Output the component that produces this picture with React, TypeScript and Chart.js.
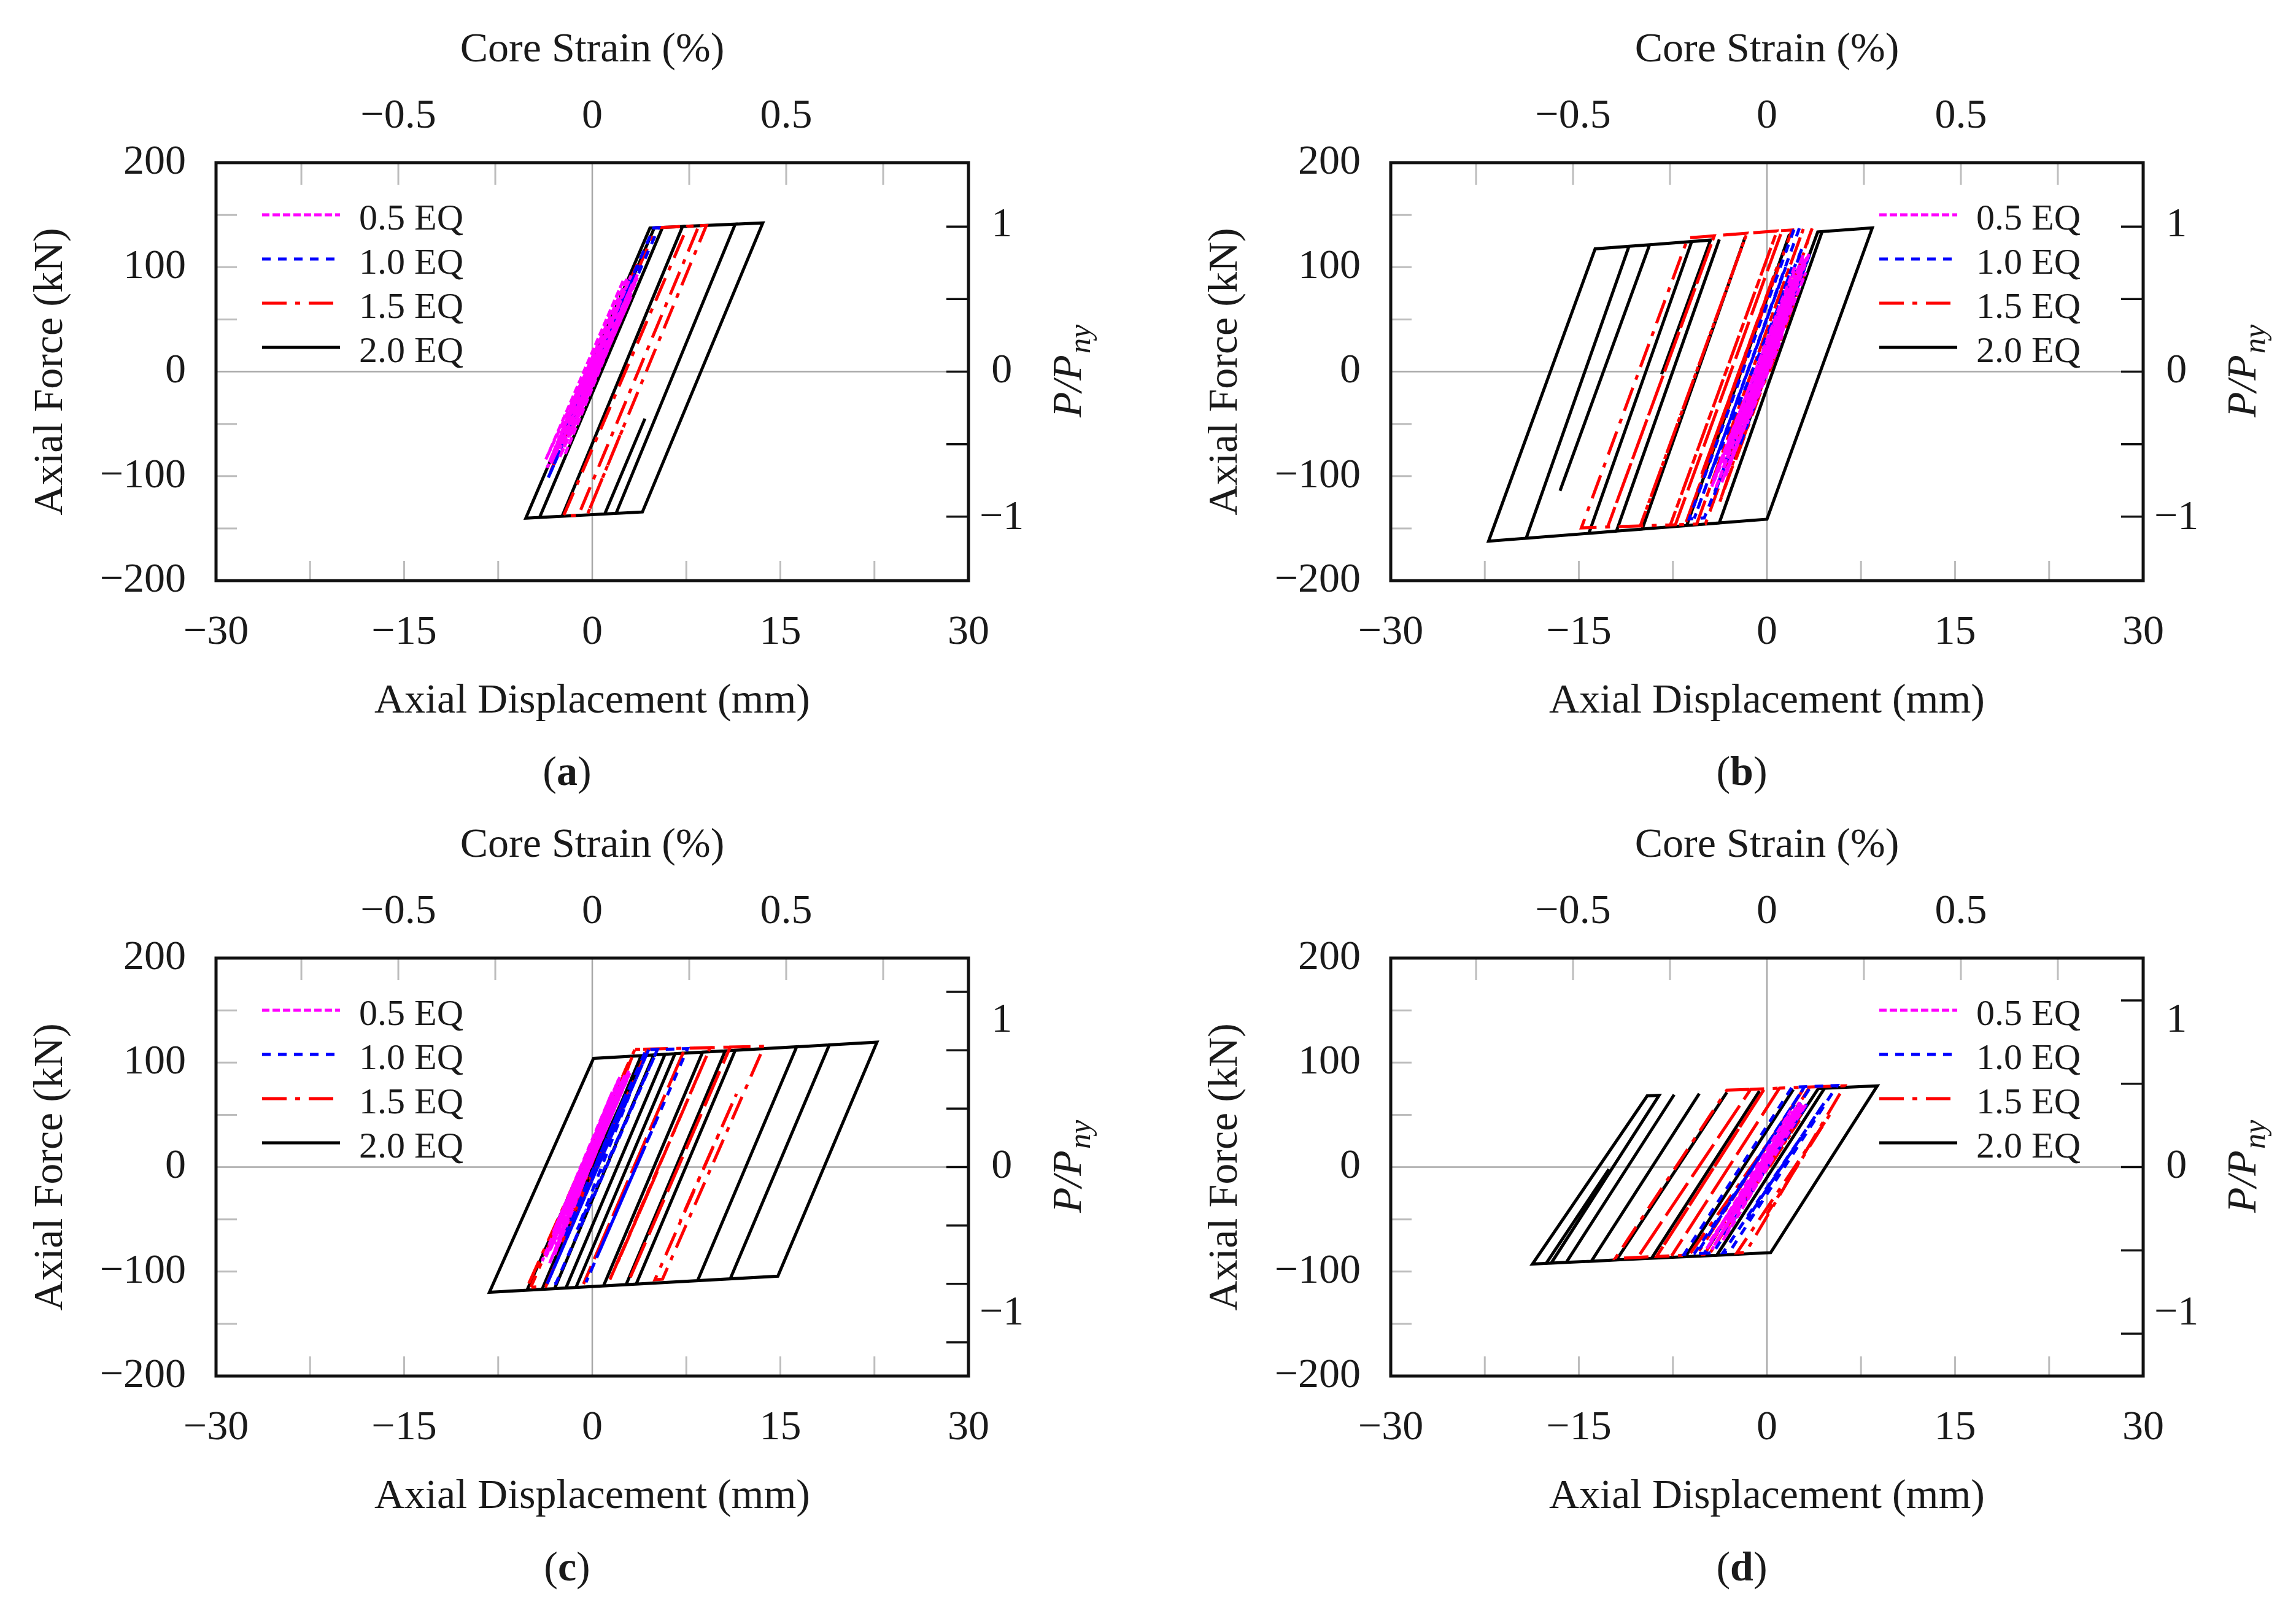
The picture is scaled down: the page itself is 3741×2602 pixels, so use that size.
import { useEffect, useRef } from "react"
import { Chart, registerables } from "chart.js"

Chart.register(...registerables)

type Pt = [number, number]

const FONT = '"Liberation Serif", "Times New Roman", serif'
const TEXT = "#1a1a1a"

const SERIES_LABELS = ["0.5 EQ", "1.0 EQ", "1.5 EQ", "2.0 EQ"]
const SERIES_COLORS = ["#ff00ff", "#0000ff", "#ff0000", "#000000"]
const SERIES_DASH = [[12, 5], [14, 12], [40, 14, 8, 14], []]

// tick labels
const DISP_TICKS = [-30, -15, 0, 15, 30]
const FORCE_TICKS = [-200, -100, 0, 100, 200]
const STRAIN_TICKS = [-0.5, 0, 0.5]
const RATIO_TICKS = [-1, 0, 1]

// minor (unlabelled) tick marks
const DISP_MARKS = [-22.5, -15, -7.5, 7.5, 15, 22.5]
const FORCE_MARKS = [-150, -100, -50, 50, 100, 150]
const STRAIN_MARKS = [-0.75, -0.5, -0.25, 0.25, 0.5, 0.75]

const STRAIN_LIMIT = 0.97 // core strain (%) at +/-30 mm
const PNY = 140 // kN used for the P/Pny labels

// right-hand tick marks, kN, as drawn in each panel
const A_RATIO_MARKS = [-138.8, -69.4, 0, 69.4, 138.8]
const B_RATIO_MARKS = [-138.8, -69.4, 0, 69.4, 138.8]
const C_RATIO_MARKS = [-167.7, -111.8, -55.9, 0, 55.9, 111.8, 167.7]
const D_RATIO_MARKS = [-159.4, -79.7, 0, 79.7, 159.4]

// (a) axial displacement (mm), axial force (kN)
const A_05: Pt[] = [[-0.5, 0], [2.8, 90], [-3.4, -86], [3.1, 92], [-2.6, -74], [3.2, 84], [-2.6, -82], [3.1, 72], [-1.8, -62], [3.6, 93], [-2.4, -70], [2.1, 62], [-1.9, -45], [1.3, 40], [-0.8, -24], [0.7, 14], [-3.3, -88], [3.4, 86], [-2.2, -80], [3.6, 90], [-3.6, -92], [2.5, 88], [-3.7, -84], [2.6, 80], [-1.0, -30]]
const A_10: Pt[] = [[-0.2, 0], [3.1, 90], [-3.0, -80], [4.9, 137.6], [5.3, 137.8], [-3.6, -104], [3.7, 102], [-3.3, -96], [2.0, 52]]
const A_15: Pt[] = [[-0.2, 0], [3.6, 103], [-3.3, -95], [5.1, 137.8], [8.5, 139.6], [-1.1, -137.5], [-2.3, -138.3], [7.6, 139.1], [9.1, 139.9], [-0.4, -137.1], [2.6, -50]]
const A_20: Pt[] = [[0, 0], [2.5, 70], [-2.0, -56], [4.95, 137.7], [13.6, 142.3], [4.0, -134.3], [-5.3, -140.2], [4.6, 137.5], [5.6, 138.0], [-4.2, -139.5], [5.6, 138.0], [7.2, 138.9], [-2.4, -138.3], [7.2, 138.9], [11.4, 141.1], [1.9, -135.6], [1.0, -136.2], [4.2, -45]]

// (b)
const B_05: Pt[] = [[-0.5, 0], [2.9, 112], [-4.1, -112], [3.2, 110], [-3.2, -96], [3.1, 95], [-3.6, -106], [3.0, 104], [-3.2, -80], [1.8, 80], [-3.5, -92], [2.1, 70], [-1.6, -50], [1.1, 30], [2.2, 100], [-4.4, -110], [3.4, 114], [-3.3, -100], [2.0, 90], [-4.3, -104], [3.0, 108], [-2.5, -60], [0.8, 20]]
const B_10: Pt[] = [[0, 0], [2.5, 84], [-2.2, -72], [3.4, 112], [-5.0, -140], [-6.2, -141], [2.2, 137.5], [2.6, 137.8], [-5.8, -140.6], [1.5, 100], [-4.6, -101], [2.8, 118], [-4.2, -118], [2.0, 100], [-3.0, -72], [1.0, 50]]
const B_15: Pt[] = [[0.2, 0], [3.0, 95], [-2.6, -88], [3.2, 108], [-3.8, -126], [3.6, 137.1], [-4.9, -145.5], [-5.6, -145.8], [2.9, 136.5], [-5.6, -145.8], [-7.3, -146.5], [1.2, 134.9], [-7.3, -146.5], [-14.8, -149.5], [-6.3, 128.1], [-4.2, 130], [-12.7, -148.6], [-4.2, 130], [-1.6, 132.4], [-10.1, -147.6], [-1.6, 132.4], [0.8, 134.6], [-7.7, -146.6], [0.8, 134.6], [2.0, 135.6], [-6.5, -146.1], [0.8, 100], [-5.2, -98], [0.4, 86], [-3.8, -52], [-1.9, 10]]
const B_20: Pt[] = [[0, 0], [2.4, 80], [-2.0, -66], [1.5, 50], [-2.6, -84], [4.05, 133.7], [8.4, 137.6], [0, -141.2], [-3.8, -144.8], [4.4, 134.0], [-3.8, -144.8], [-6.4, -147.3], [1.8, 131.6], [-6.4, -147.3], [-9.95, -150.7], [-1.75, 128.4], [-9.95, -150.7], [-12.0, -152.6], [-3.8, 126.5], [-12.0, -152.6], [-14.2, -154.7], [-6.0, 124.5], [-14.2, -154.7], [-19.2, -159.4], [-11.0, 120.0], [-19.2, -159.4], [-22.2, -162.3], [-13.7, 117.5], [-9.36, 121.4], [-16.5, -114], [-9.36, 121.4], [-4.5, 125.9], [-8.4, -2.4]]

// (c)
const C_05: Pt[] = [[-0.6, 0], [2.6, 88], [-3.4, -92], [2.9, 88], [-2.9, -75], [2.3, 82], [-3.7, -86], [1.6, 72], [-3.1, -62], [2.2, 86], [-3.4, -80], [1.5, 55], [-1.7, -40], [0.2, 12], [2.9, 92], [-3.0, -84], [2.1, 84], [-4.0, -90], [3.0, 90], [-2.7, -70], [1.6, 64], [-3.3, -78], [0.9, 30]]
const C_10: Pt[] = [[0.2, 0], [2.7, 70], [-2.3, -68], [4.3, 112.3], [5.2, 112.6], [-2.9, -111.5], [-3.6, -111.8], [4.5, 112.4], [-3.6, -111.8], [-0.6, -28], [3.0, 70], [-1.2, -60], [5.2, 112.6], [7.6, 113.3], [-0.5, -110.3], [5.0, 42], [0.6, -80], [4.0, 14]]
const C_15: Pt[] = [[0.3, 0], [2.9, 72], [-2.4, -72], [3.4, 112.6], [4.4, 112.9], [-3.7, -114.1], [-5.2, -115.2], [2.9, 100], [-1.4, -18], [1.4, 60], [-4.9, -115], [3.4, 112.6], [7.4, 113.7], [-0.7, -111.9], [7.4, 113.7], [9.4, 114.3], [1.3, -110.5], [5.2, -4], [2.0, -92], [9.4, 114.3], [11.0, 114.8], [2.9, -109.3], [11.0, 114.8], [13.7, 115.6], [5.6, -107.3], [5.0, -107.8], [11.5, 70], [7.0, -52]]
const C_20: Pt[] = [[0, 0], [3.0, 80], [-2.5, -68], [4.2, 106.8], [4.9, 107.3], [-3.0, -116.3], [4.9, 107.3], [5.8, 107.9], [-2.1, -115.7], [5.8, 107.9], [6.6, 108.5], [-1.3, -115.2], [6.6, 108.5], [8.8, 110.0], [0.9, -113.7], [8.8, 110.0], [10.6, 111.2], [2.7, -112.5], [10.6, 111.2], [11.4, 111.8], [3.5, -112.0], [11.4, 111.8], [16.3, 115.1], [8.4, -108.7], [16.3, 115.1], [18.9, 116.9], [11.0, -107.0], [18.9, 116.9], [22.7, 119.6], [14.8, -104.4], [-8.2, -119.8], [0.1, 104.0], [3.9, 106.6], [-4.0, -117.0], [-5.2, -117.8], [1.0, 50]]

// (d)
const D_05: Pt[] = [[-0.2, 0], [2.8, 60], [-4.4, -79], [2.3, 56], [-4.3, -68], [2.6, 62], [-4.2, -75], [2.3, 48], [-3.4, -60], [2.5, 58], [-3.1, -46], [0.8, 26], [-1.2, -18], [0.1, 6], [2.9, 58], [-4.8, -78], [1.9, 54], [-3.5, -70], [3.1, 60], [-4.6, -72], [2.2, 50], [-2.0, -40], [0.5, 10]]
const D_10: Pt[] = [[0, 0], [2.3, 42], [-2.2, -40], [3.3, 62], [-4.3, -82.2], [-5.0, -82.5], [3.5, 77.1], [-5.0, -82.5], [-5.6, -82.8], [3.0, 76.9], [-4.4, -60], [2.2, 60], [-5.8, -82.9], [-6.6, -83.3], [2.0, 76.4], [5.6, 78], [-3.0, -81.5], [-3.5, -81.8], [4.6, 62], [-1.6, -50], [2.8, 30], [-0.5, -30]]
const D_15: Pt[] = [[0.2, 0], [2.6, 45], [-2.0, -38], [3.2, 60], [-4.6, -83.3], [-5.0, -83.6], [3.4, 76.5], [-5.0, -83.6], [-5.6, -83.9], [3.0, 76.4], [-2.2, -20], [1.2, 42], [-6.2, -84.2], [-8.8, -85.6], [-0.2, 74.9], [-8.8, -85.6], [-12.1, -87.5], [-3.2, 73.6], [-1.3, 74.4], [-10.3, -86.5], [-1.3, 74.4], [1.0, 75.5], [-7.6, -85], [1.0, 75.5], [6.2, 77.8], [-1.7, -81.7], [-2.4, -82.1], [5.0, 50], [0.0, -45]]
const D_20: Pt[] = [[0, 0], [2.5, 45], [-2.0, -36], [4.1, 75.2], [8.8, 77.7], [0.3, -81.9], [-4.0, -84.4], [4.6, 75.5], [-4.0, -84.4], [-6.5, -85.8], [2.1, 74.2], [-6.5, -85.8], [-9.2, -87.3], [-0.6, 72.8], [-9.2, -87.3], [-12.0, -88.9], [-3.2, 71.4], [-12.0, -88.9], [-14.0, -90.1], [-5.4, 70.3], [-14.0, -90.1], [-16.0, -91.2], [-7.4, 69.3], [-16.0, -91.2], [-18.7, -92.8], [-9.55, 68.1], [-8.6, 68.6], [-17.2, -91.9], [-17.6, -92.1], [-12.6, -2]]

type PanelDef = {
  id: string
  series: Pt[][]
  ratioMarks: number[]
  legendRight: boolean
  left: number
  top: number
}

const CANVAS_W = 1827
const CANVAS_H = 1200

const PANELS: PanelDef[] = [
  { id: "a", series: [A_05, A_10, A_15, A_20], ratioMarks: A_RATIO_MARKS, legendRight: false, left: 0, top: 0 },
  { id: "b", series: [B_05, B_10, B_15, B_20], ratioMarks: B_RATIO_MARKS, legendRight: true, left: 1914, top: 0 },
  { id: "c", series: [C_05, C_10, C_15, C_20], ratioMarks: C_RATIO_MARKS, legendRight: false, left: 0, top: 1296 },
  { id: "d", series: [D_05, D_10, D_15, D_20], ratioMarks: D_RATIO_MARKS, legendRight: true, left: 1914, top: 1296 },
]

const minus = (v: number | string) => String(v).replace("-", "\u2212")
const font68 = { family: FONT, size: 68 }

function decorPlugin(panel: PanelDef) {
  return {
    id: "decor",
    beforeDatasetsDraw(chart: any) {
      const { ctx, chartArea: a, scales } = chart
      const x = scales.x
      const y = scales.y
      const x2 = scales.x2
      ctx.save()
      ctx.strokeStyle = "#a8a8a8"
      ctx.lineWidth = 2.5
      ctx.beginPath()
      ctx.moveTo(x.getPixelForValue(0), a.top)
      ctx.lineTo(x.getPixelForValue(0), a.bottom)
      ctx.moveTo(a.left, y.getPixelForValue(0))
      ctx.lineTo(a.right, y.getPixelForValue(0))
      ctx.stroke()

      ctx.strokeStyle = "#bdbdbd"
      ctx.lineWidth = 3
      ctx.beginPath()
      DISP_MARKS.forEach((v) => {
        const px = x.getPixelForValue(v)
        ctx.moveTo(px, a.bottom)
        ctx.lineTo(px, a.bottom - 32)
      })
      STRAIN_MARKS.forEach((v) => {
        const px = x2.getPixelForValue(v)
        ctx.moveTo(px, a.top)
        ctx.lineTo(px, a.top + 36)
      })
      FORCE_MARKS.forEach((v) => {
        const py = y.getPixelForValue(v)
        ctx.moveTo(a.left, py)
        ctx.lineTo(a.left + 34, py)
      })
      ctx.stroke()
      ctx.restore()
    },
    afterDatasetsDraw(chart: any) {
      const { ctx, chartArea: a, scales } = chart
      const y = scales.y
      ctx.save()
      // right-hand tick marks
      ctx.strokeStyle = "#111"
      ctx.lineWidth = 3.5
      ctx.beginPath()
      panel.ratioMarks.forEach((v) => {
        const py = y.getPixelForValue(v)
        ctx.moveTo(a.right, py)
        ctx.lineTo(a.right - 36, py)
      })
      ctx.stroke()

      // frame
      ctx.lineWidth = 5
      ctx.strokeRect(a.left, a.top, a.right - a.left, a.bottom - a.top)

      // legend
      const lineX = a.left + (panel.legendRight ? 796 : 75)
      ctx.font = `60px ${FONT}`
      ctx.textBaseline = "middle"
      ctx.textAlign = "left"
      SERIES_LABELS.forEach((label, i) => {
        const ly = a.top + 85 + i * 72
        ctx.strokeStyle = SERIES_COLORS[i]
        ctx.lineWidth = 5
        ctx.setLineDash(SERIES_DASH[i])
        ctx.beginPath()
        ctx.moveTo(lineX, ly)
        ctx.lineTo(lineX + 127, ly)
        ctx.stroke()
        ctx.setLineDash([])
        ctx.fillStyle = TEXT
        ctx.fillText(label, lineX + 158, ly + 8)
      })

      // right axis title P/Pny
      ctx.translate(a.right + 165, (a.top + a.bottom) / 2)
      ctx.rotate(-Math.PI / 2)
      ctx.fillStyle = TEXT
      ctx.font = `italic 68px ${FONT}`
      const w1 = ctx.measureText("P/P").width
      ctx.font = `italic 50px ${FONT}`
      const w2 = ctx.measureText("ny").width
      const start = -(w1 + w2) / 2
      ctx.font = `italic 68px ${FONT}`
      ctx.fillText("P/P", start, 0)
      ctx.font = `italic 50px ${FONT}`
      ctx.fillText("ny", start + w1 + 2, 20)
      ctx.restore()
    },
  }
}

function Panel({ panel }: { panel: PanelDef }) {
  const chartRef = useRef<HTMLCanvasElement>(null)
  const chartInstance = useRef<Chart | null>(null)

  useEffect(() => {
    if (!chartRef.current) return
    if (chartInstance.current) chartInstance.current.destroy()
    const ctx = chartRef.current.getContext("2d")
    if (!ctx) return

    chartInstance.current = new Chart(ctx, {
      type: "scatter",
      data: {
        datasets: panel.series.map((pts, i) => ({
          label: SERIES_LABELS[i],
          data: pts.map(([x, y]) => ({ x, y })),
          borderColor: SERIES_COLORS[i],
          backgroundColor: SERIES_COLORS[i],
          borderWidth: 5,
          borderDash: SERIES_DASH[i],
          pointRadius: 0,
          showLine: true,
          tension: 0,
        })),
      },
      options: {
        responsive: false,
        devicePixelRatio: 1,
        animation: false,
        events: [],
        layout: { padding: 0 },
        plugins: {
          legend: { display: false },
          tooltip: { enabled: false },
        },
        scales: {
          x: {
            type: "linear",
            position: "bottom",
            min: -30,
            max: 30,
            afterBuildTicks: (s: any) => {
              s.ticks = DISP_TICKS.map((value) => ({ value }))
            },
            afterFit: (s: any) => {
              s.height = 254
            },
            grid: { display: false },
            border: { display: false },
            ticks: { font: font68, color: TEXT, padding: 36, autoSkip: false, maxRotation: 0, callback: (v: any) => minus(v) },
            title: { display: true, text: "Axial Displacement (mm)", font: font68, color: TEXT, padding: { top: 0, bottom: 16 } },
          },
          x2: {
            type: "linear",
            position: "top",
            min: -STRAIN_LIMIT,
            max: STRAIN_LIMIT,
            afterBuildTicks: (s: any) => {
              s.ticks = STRAIN_TICKS.map((value) => ({ value }))
            },
            afterFit: (s: any) => {
              s.height = 265
            },
            grid: { display: false },
            border: { display: false },
            ticks: { font: font68, color: TEXT, padding: 26, autoSkip: false, maxRotation: 0, callback: (v: any) => minus(v) },
            title: { display: true, text: "Core Strain (%)", font: font68, color: TEXT, padding: { top: 41, bottom: 0 } },
          },
          y: {
            type: "linear",
            position: "left",
            min: -200,
            max: 200,
            afterBuildTicks: (s: any) => {
              s.ticks = FORCE_TICKS.map((value) => ({ value }))
            },
            afterFit: (s: any) => {
              s.width = 352
            },
            grid: { display: false },
            border: { display: false },
            ticks: { font: font68, color: TEXT, padding: 41, autoSkip: false, callback: (v: any) => minus(v) },
            title: { display: true, text: "Axial Force (kN)", font: font68, color: TEXT, padding: { top: 42, bottom: 0 } },
          },
          y2: {
            type: "linear",
            position: "right",
            min: -200 / PNY,
            max: 200 / PNY,
            afterBuildTicks: (s: any) => {
              s.ticks = RATIO_TICKS.map((value) => ({ value }))
            },
            afterFit: (s: any) => {
              s.width = CANVAS_W - 1578
            },
            grid: { display: false },
            border: { display: false },
            ticks: { font: font68, color: TEXT, padding: 10, autoSkip: false, crossAlign: "center", callback: (v: any) => minus(v) },
          },
        },
      } as any,
      plugins: [decorPlugin(panel)],
    })

    return () => {
      if (chartInstance.current) {
        chartInstance.current.destroy()
        chartInstance.current = null
      }
    }
  }, [panel])

  return (
    <div style={{ position: "absolute", left: panel.left, top: panel.top, width: CANVAS_W, height: 1300 }}>
      <canvas ref={chartRef} width={CANVAS_W} height={CANVAS_H} style={{ width: CANVAS_W, height: CANVAS_H, display: "block" }} />
      <div
        style={{
          position: "absolute",
          left: 924 - 200,
          width: 400,
          top: 1256 - 40,
          lineHeight: "80px",
          textAlign: "center",
          fontFamily: FONT,
          fontSize: 68,
          color: TEXT,
        }}
      >
        (<b>{panel.id}</b>)
      </div>
    </div>
  )
}

export default function App() {
  return (
    <div style={{ position: "absolute", left: 0, top: 0, width: 3741, height: 2602, overflow: "hidden", background: "#fff" }}>
      {PANELS.map((p) => (
        <Panel key={p.id} panel={p} />
      ))}
    </div>
  )
}
